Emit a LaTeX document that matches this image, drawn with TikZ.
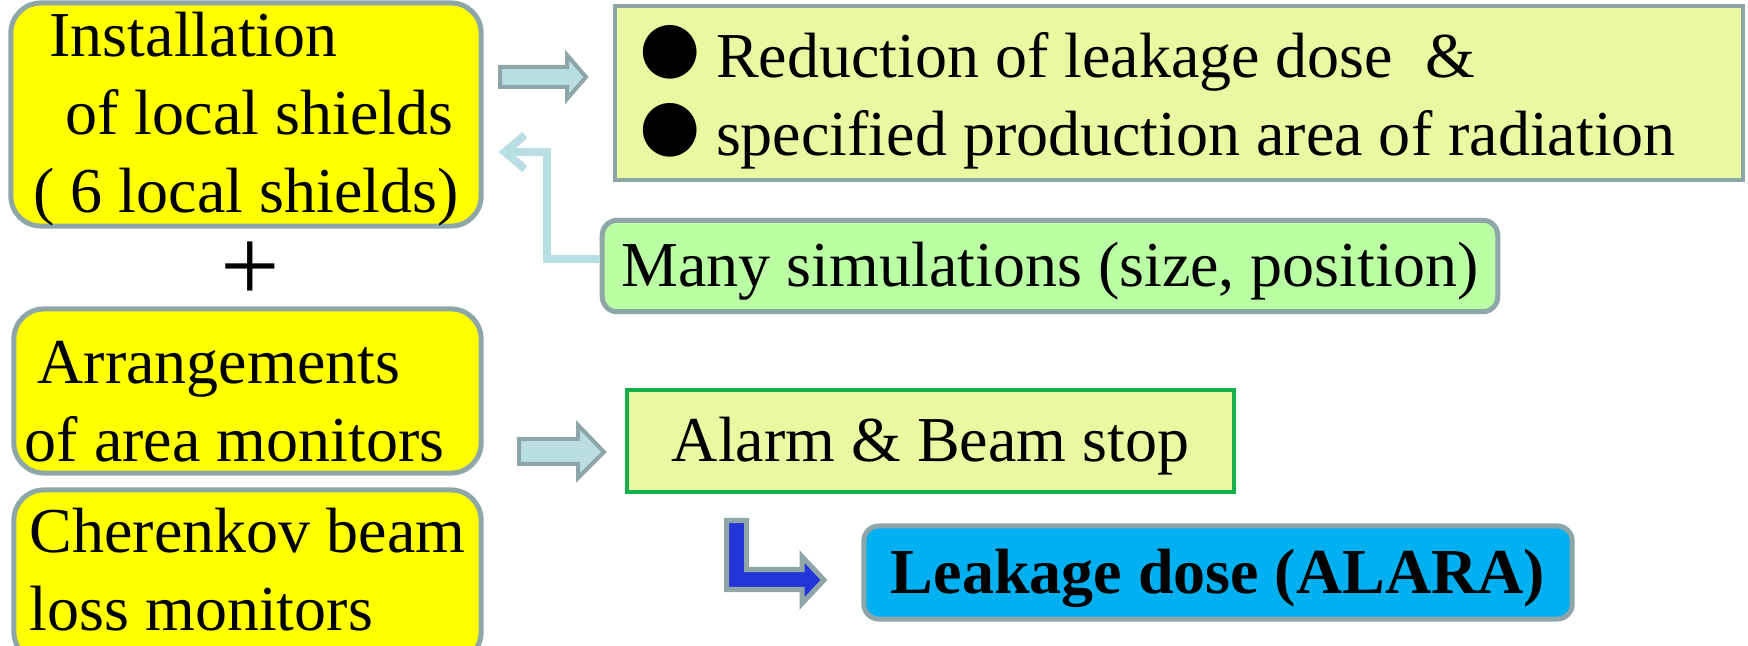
\documentclass[tikz,border=0pt]{standalone}
\usepackage{fontspec}
\setmainfont{Liberation Serif}
\newfontfamily\bulletfont{DejaVu Sans}
\usetikzlibrary{arrows.meta}
\definecolor{boxyellow}{HTML}{FFFF00}
\definecolor{edgegray}{HTML}{8EA6A8}
\definecolor{paleyg}{HTML}{E8F9A2}
\definecolor{simgreen}{HTML}{BAFFA3}
\definecolor{alarmgreen}{HTML}{14B04C}
\definecolor{arrowblue}{HTML}{BADFE3}
\definecolor{elbowblue}{HTML}{2335D8}
\definecolor{doseblue}{HTML}{00B0F0}
\newcommand{\bul}{\raisebox{0.07cm}{\bulletfont\fontsize{20}{22.1}\selectfont ●}\hspace{0.15cm}}

\begin{document}
\begin{tikzpicture}[x=0.01cm,y=-0.01cm,font=\fontsize{18.2}{22.1}\selectfont,>=Stealth]
  \tikzset{
    yellowbox/.style={draw=edgegray,line width=0.05cm,fill=boxyellow,rounded corners=0.3cm,align=flush left,inner ysep=0pt},
    greenbox/.style={draw=edgegray,line width=0.04cm,fill=paleyg,align=flush left,inner ysep=0pt},
    softbox/.style={draw=edgegray,line width=0.05cm,rounded corners=0.15cm},
    blockarrow/.style={draw=edgegray,line width=0.04cm,fill=arrowblue},
    simarrow/.style={draw=arrowblue,line width=0.08cm,-{Straight Barb[length=0.2cm,width=0.34cm]}}
  }
  % page: 1748 x 646 px, y downwards
  \useasboundingbox (0,0) rectangle (1748,646);

  % left column
  \node[yellowbox,minimum width=4.70cm,minimum height=2.17cm] (shields) at (246,114.5)
    {\rule{0pt}{0.54cm}\hspace*{0.25em}Installation\\\hspace*{0.5em}of local shields\\( 6 local shields)};
  \node (plus) at (250,272) {\fontsize{30}{30}\selectfont +};
  \node[yellowbox,text width=4.45cm,inner xsep=0.11cm,minimum height=1.64cm] (monitors) at (247.5,391)
    {\rule{0pt}{0.64cm}\hspace*{0.2em}Arrangements\\of area monitors};
  \node[yellowbox,minimum width=4.67cm,minimum height=1.72cm] (cherenkov) at (247.5,576)
    {Cherenkov beam\\loss monitors\rule[-0.13cm]{0pt}{0pt}};

  % right column
  \node[greenbox,text width=10.78cm,inner xsep=0.25cm,minimum height=1.74cm] (reduction) at (1179,93)
    {\rule{0pt}{0.61cm}\bul Reduction of leakage dose\ \ \&\\\bul specified production area of radiation};
  \node[softbox,fill=simgreen,minimum width=8.95cm,minimum height=0.84cm,text height=0.54cm,text depth=0.14cm] (sims) at (1050,266)
    {Many simulations (size, position)};
  \node[draw=alarmgreen,line width=0.045cm,fill=paleyg,minimum width=6.07cm,minimum height=1.02cm,text height=0.54cm,text depth=0.14cm] (alarm) at (930.5,441)
    {Alarm \& Beam stop};
  \node[softbox,fill=doseblue,minimum width=7.08cm,minimum height=0.93cm,text height=0.55cm,text depth=0.14cm] (leakage) at (1218,572.5)
    {\bfseries Leakage dose (ALARA)};

  % block arrows
  \draw[blockarrow] (500,67) -- (567,67) -- (567,55) -- (586,77) -- (567,99) -- (567,87) -- (500,87) -- cycle;
  \draw[blockarrow] (519,439) -- (578,439) -- (578,425) -- (604,452) -- (578,478) -- (578,464) -- (519,464) -- cycle;
  \draw[blockarrow,fill=elbowblue,line width=0.05cm] (726.5,520.5) -- (746.5,520.5) -- (746.5,569.5) -- (802,569.5)
    -- (802,556.5) -- (824,580) -- (802,603.5) -- (802,589.5) -- (726.5,589.5) -- cycle;

  % feedback from the simulations
  \draw[simarrow] ([yshift=0.07cm]sims.west) -| ([xshift=0.63cm,yshift=-0.375cm]shields.east)
    -- ([xshift=0.15cm,yshift=-0.375cm]shields.east);
\end{tikzpicture}
\end{document}
